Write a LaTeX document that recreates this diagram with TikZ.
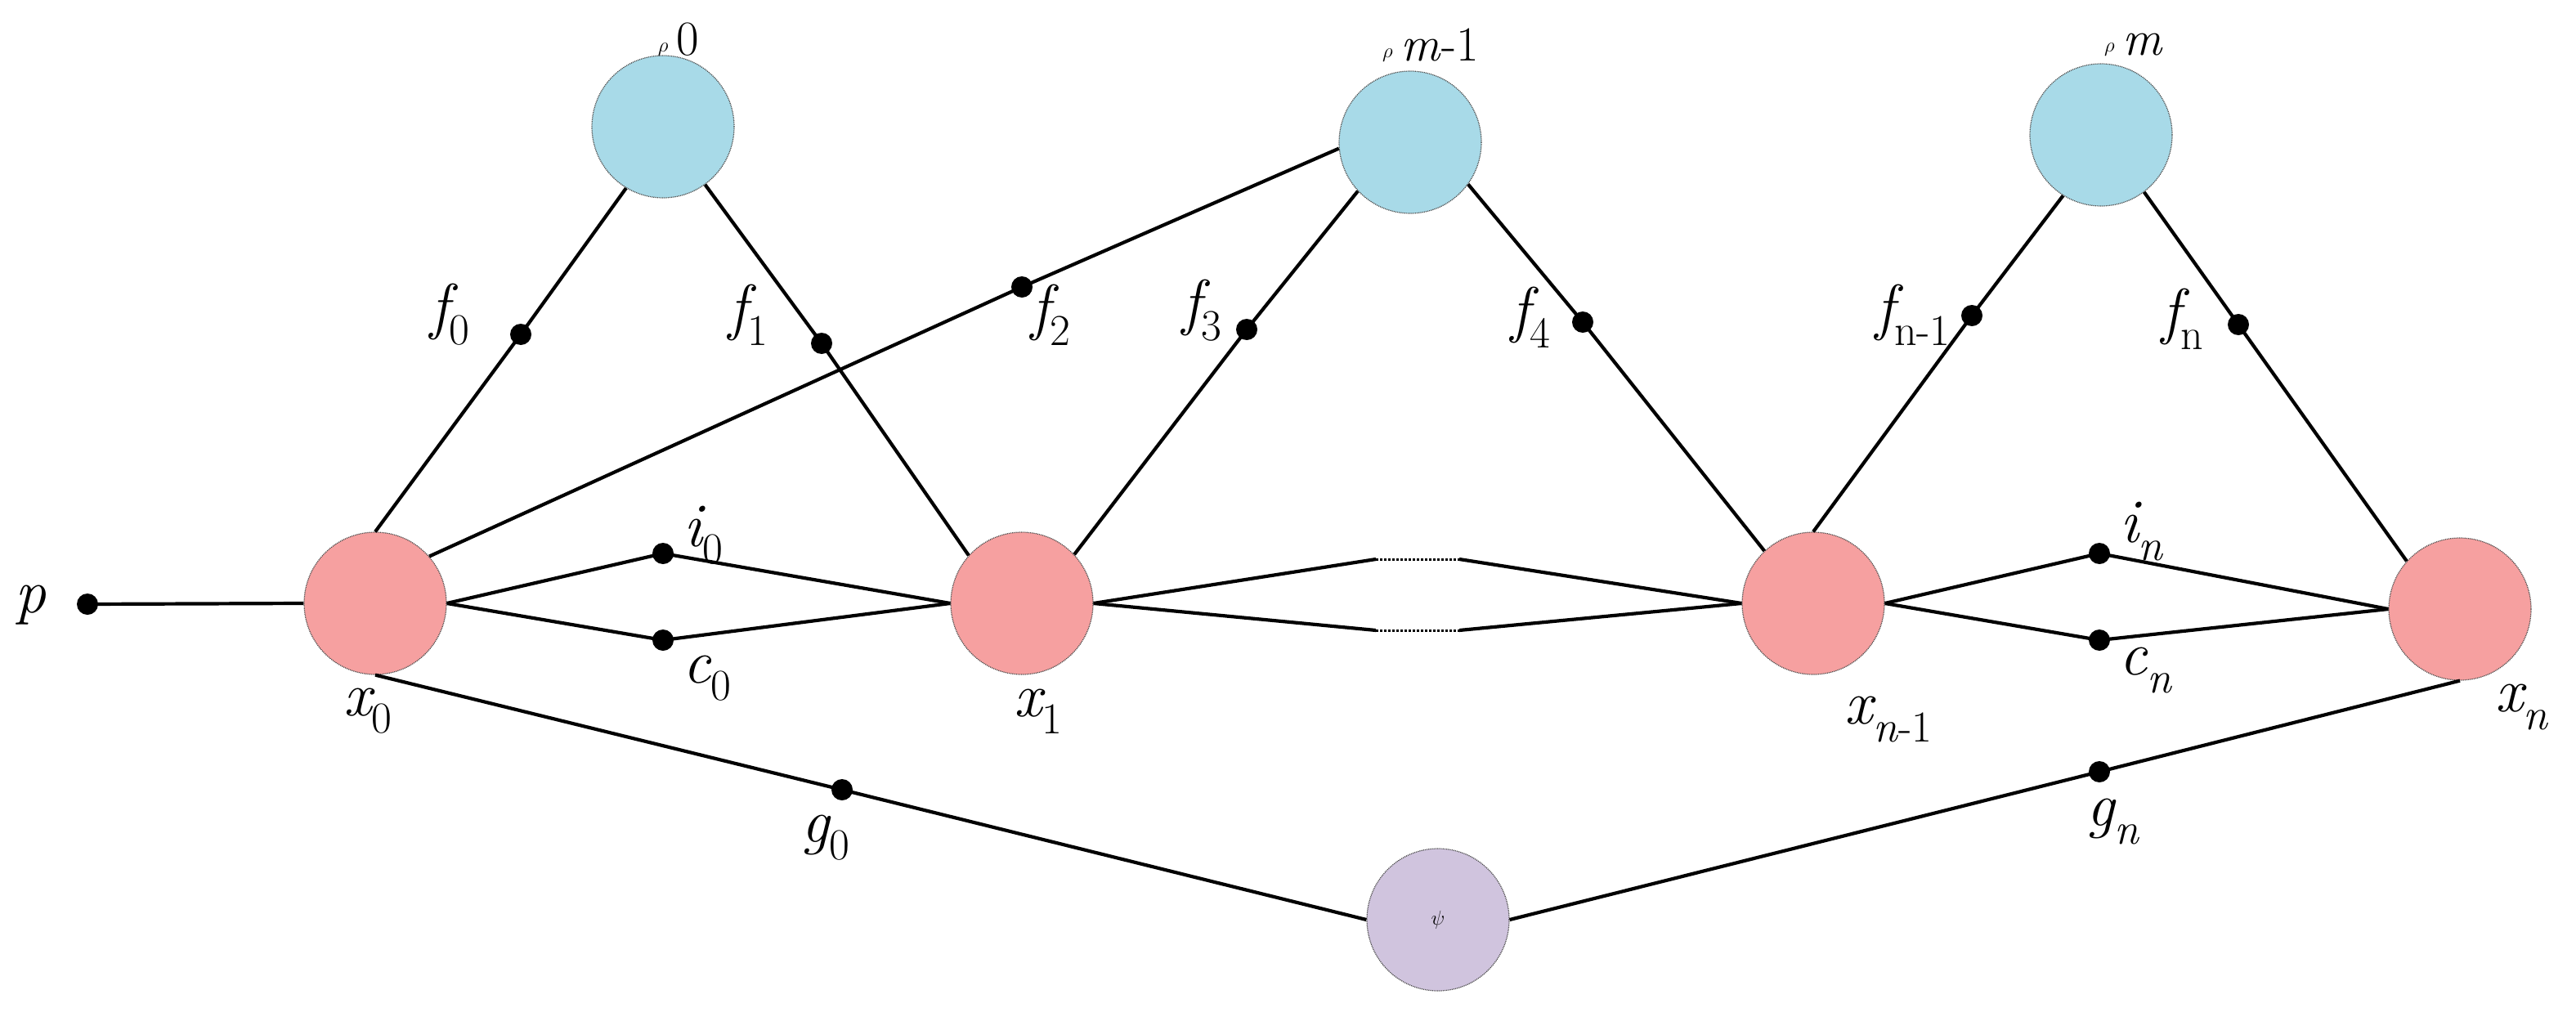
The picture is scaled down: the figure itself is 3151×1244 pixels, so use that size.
\documentclass[tikz,border=0pt]{standalone}
\begin{document}
\newcommand{\lb}[2]{{\itshape #1}\raisebox{-0.28em}{\fontsize{54}{54}\selectfont #2}}
\begin{tikzpicture}[x=1pt,y=-1pt,
  st/.style={circle,minimum size=174pt,inner sep=0pt,draw=black!70,line width=1.2pt,densely dotted},
  xs/.style={st,fill={rgb,255:red,246;green,160;blue,160}},
  rs/.style={st,fill={rgb,255:red,168;green,218;blue,232}},
  ps/.style={st,fill={rgb,255:red,208;green,196;blue,222}},
  dot/.style={circle,fill=black,minimum size=26pt,inner sep=0pt},
  ln/.style={line width=4.2pt},
  lab/.style={font=\fontsize{76}{76}\selectfont,inner sep=0pt}]
\useasboundingbox (0,0) rectangle (3151,1244);
\node[xs] (x0) at (459,738) {};
\node[xs] (x1) at (1250,738) {};
\node[xs] (xn1) at (2218,738) {};
\node[xs] (xn) at (3009,745) {};
\node[rs] (r0) at (811,155) {};
\node[rs] (rm1) at (1725,174) {};
\node[rs] (rm) at (2570,165) {};
\node[ps] (psi) at (1759,1125) {};
\node[lab,font=\fontsize{90}{90}\selectfont] at (psi) {$\psi$};
\node[dot] (p) at (107,739) {};
\node[dot] (f0) at (637,409) {};
\node[dot] (f1) at (1005,420) {};
\node[dot] (f2) at (1250,351) {};
\node[dot] (f3) at (1525,403) {};
\node[dot] (f4) at (1936,394) {};
\node[dot] (fn1) at (2412,386) {};
\node[dot] (fn) at (2738,397) {};
\node[dot] (i0) at (811,677) {};
\node[dot] (c0) at (811,783) {};
\node[dot] (in) at (2568,677) {};
\node[dot] (cn) at (2568,783) {};
\node[dot] (g0) at (1030,966) {};
\node[dot] (gn) at (2568,944) {};
\coordinate (ua) at (1683,684); \coordinate (ub) at (1785,684);
\coordinate (la) at (1683,771); \coordinate (lb) at (1785,771);
\draw[ln] (p.center) -- (x0.west);
\draw[ln] (x0.north) -- (f0.center) -- (r0.239);
\draw[ln] (r0.306) -- (f1.center) -- (x1.138);
\draw[ln] (x0.41) -- (f2.center) -- (rm1.185);
\draw[ln] (x1.43) -- (f3.center) -- (rm1.223);
\draw[ln] (rm1.324) -- (f4.center) -- (xn1.133);
\draw[ln] (xn1.north) -- (fn1.center) -- (rm.238);
\draw[ln] (rm.307) -- (fn.center) -- (xn.138);
\draw[ln] (x0.east) -- (i0.center) -- (x1.west);
\draw[ln] (x0.east) -- (c0.center) -- (x1.west);
\draw[ln] (xn1.east) -- (in.center) -- (xn.west);
\draw[ln] (xn1.east) -- (cn.center) -- (xn.west);
\draw[ln] (x1.east) -- (ua); \draw[densely dashed,line width=3pt] (ua) -- (ub); \draw[ln] (ub) -- (xn1.west);
\draw[ln] (x1.east) -- (la); \draw[densely dashed,line width=3pt] (la) -- (lb); \draw[ln] (lb) -- (xn1.west);
\draw[ln] (x0.south) -- (g0.center) -- (psi.west);
\draw[ln] (psi.east) -- (gn.center) -- (xn.south);
\node[lab] (lf0) at (550,385) {\lb{f}{0}};
\node[lab] (lf1) at (915,385) {\lb{f}{1}};
\node[lab] (lf2) at (1285,385) {\lb{f}{2}};
\node[lab] (lf3) at (1470,380) {\lb{f}{3}};
\node[lab] (lf4) at (1872,388) {\lb{f}{4}};
\node[lab] (lfn1) at (2340,385) {\lb{f}{n-1}};
\node[lab] (lfn) at (2670,390) {\lb{f}{n}};
\node[lab] (lr0) at (830,48) {$\rho$\raisebox{-0.05em}{\fontsize{60}{60}\selectfont\,0}};
\node[lab] (lrm1) at (1750,55) {$\rho$\raisebox{-0.05em}{\fontsize{60}{60}\selectfont\,\textit{m}-1}};
\node[lab] (lrm) at (2610,55) {$\rho$\raisebox{-0.05em}{\fontsize{60}{60}\selectfont\,\textit{m}}};
\node[lab] (li0) at (860,655) {\lb{i}{0}};
\node[lab] (lc0) at (865,830) {\lb{c}{0}};
\node[lab] (lx0) at (450,870) {\lb{x}{0}};
\node[lab] (lx1) at (1270,870) {\lb{x}{1}};
\node[lab] (lg0) at (1010,1025) {\lb{g}{0}};
\node[lab] (lp) at (38,740) {\textit{p}};
\node[lab] (lxn1) at (2310,880) {\lb{x}{\textit{n}-1}};
\node[lab] (lin) at (2620,650) {\lb{i}{\textit{n}}};
\node[lab] (lcn) at (2625,820) {\lb{c}{\textit{n}}};
\node[lab] (lxn) at (3085,865) {\lb{x}{\textit{n}}};
\node[lab] (lgn) at (2585,1005) {\lb{g}{\textit{n}}};
\end{tikzpicture}
\end{document}
